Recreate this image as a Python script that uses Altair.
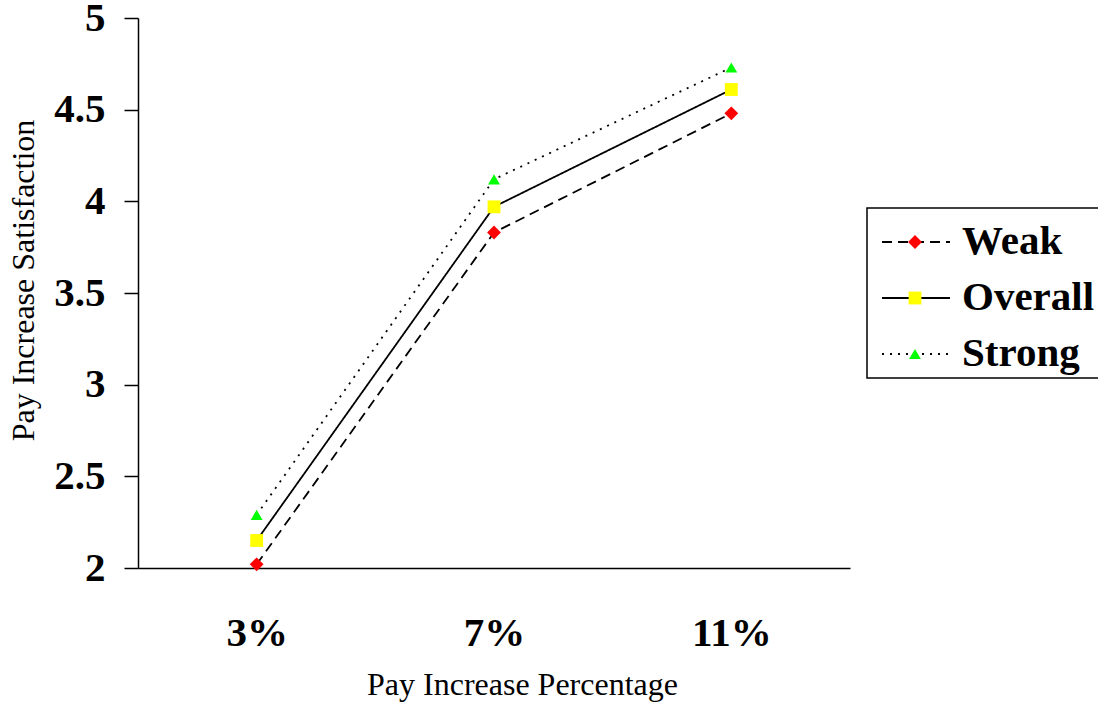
import altair as alt
import pandas as pd

categories = ["3%", "7%", "11%"]
series_names = ["Weak", "Overall", "Strong"]
weak = [2.02, 3.83, 4.48]
overall = [2.15, 3.97, 4.61]
strong = [2.29, 4.12, 4.73]

rows = []
for name, vals in zip(series_names, [weak, overall, strong]):
    for c, v in zip(categories, vals):
        rows.append({"pct": c, "series": name, "value": v})
df = pd.DataFrame(rows)
legend_df = pd.DataFrame({"series": series_names})

FONT = "Liberation Serif"
W, H = 712, 550

color_scale = alt.Scale(domain=series_names, range=["#ff0000", "#ffff00", "#00ff00"])
shape_scale = alt.Scale(domain=series_names, range=["diamond", "square", "triangle-up"])
size_scale = alt.Scale(domain=series_names, range=[190, 140, 170])
dash_scale = alt.Scale(domain=series_names, range=[[10, 6], [1, 0], [2, 6]])

x_enc = alt.X(
    "pct:N", sort=categories,
    scale=alt.Scale(type="point", padding=0.5),
    axis=alt.Axis(
        title="Pay Increase Percentage", labelAngle=0, ticks=False, tickSize=0,
        labelPadding=45, labelFont=FONT, labelFontSize=41, labelFontWeight="bold",
        labelColor="black", domainColor="black", domainWidth=1.5, grid=False,
        titleFont=FONT, titleFontSize=32, titleFontWeight="normal", titleColor="black",
        titleX=384, titleY=126, titleBaseline="alphabetic", titleAnchor="middle",
    ),
)
y_enc = alt.Y(
    "value:Q",
    scale=alt.Scale(domain=[2, 5], nice=False, zero=False),
    axis=alt.Axis(
        title="Pay Increase Satisfaction", values=[2, 2.5, 3, 3.5, 4, 4.5, 5],
        labelExpr="'' + datum.value", tickSize=14, tickWidth=1.5, tickColor="black",
        labelPadding=19, labelFont=FONT, labelFontSize=41, labelFontWeight="bold",
        labelColor="black", domainColor="black", domainWidth=1.5, grid=False,
        titleFont=FONT, titleFontSize=32, titleFontWeight="normal", titleColor="black",
        titleX=-105, titleY=262, titleBaseline="alphabetic", titleAngle=-90,
    ),
)

lines = alt.Chart(df).mark_line(color="black", strokeWidth=1.8).encode(
    x=x_enc, y=y_enc,
    strokeDash=alt.StrokeDash("series:N", scale=dash_scale, legend=None),
    detail="series:N",
)
points = alt.Chart(df).mark_point(filled=True, opacity=1).encode(
    x=x_enc, y=y_enc,
    color=alt.Color("series:N", scale=color_scale, legend=None),
    shape=alt.Shape("series:N", scale=shape_scale, legend=None),
    size=alt.Size("series:N", scale=size_scale, legend=None),
)

leg_y = alt.Y("series:N", scale=alt.Scale(type="point", domain=series_names,
                                          range=[224, 336], padding=0), axis=None)

box = alt.Chart(pd.DataFrame({"k": [0]})).mark_rect(
    fill="white", stroke="black", strokeWidth=1.5
).encode(x=alt.value(729), x2=alt.value(975), y=alt.value(190), y2=alt.value(360))

leg_lines = alt.Chart(legend_df).mark_rule(color="black", strokeWidth=1.8).encode(
    x=alt.value(744), x2=alt.value(812), y=leg_y,
    strokeDash=alt.StrokeDash("series:N", scale=dash_scale, legend=None),
)
leg_points = alt.Chart(legend_df).mark_point(filled=True, opacity=1).encode(
    x=alt.value(777), y=leg_y,
    color=alt.Color("series:N", scale=color_scale, legend=None),
    shape=alt.Shape("series:N", scale=shape_scale, legend=None),
    size=alt.Size("series:N", scale=size_scale, legend=None),
)
leg_text = alt.Chart(legend_df).mark_text(
    align="left", baseline="middle", font=FONT, fontSize=41, fontWeight="bold", color="black"
).encode(x=alt.value(824), y=leg_y, text="series:N")

main = alt.layer(lines, points)
legend = alt.layer(box, leg_lines, leg_points, leg_text)

chart = alt.layer(main, legend).resolve_scale(y="independent").properties(
    width=W, height=H,
    autosize=alt.AutoSizeParams(type="none"),
    padding={"left": 138, "top": 18, "right": 248, "bottom": 134},
    background="white",
).configure_view(stroke=None)

chart.save("out.html", embed_options={"renderer": "svg", "actions": False})
